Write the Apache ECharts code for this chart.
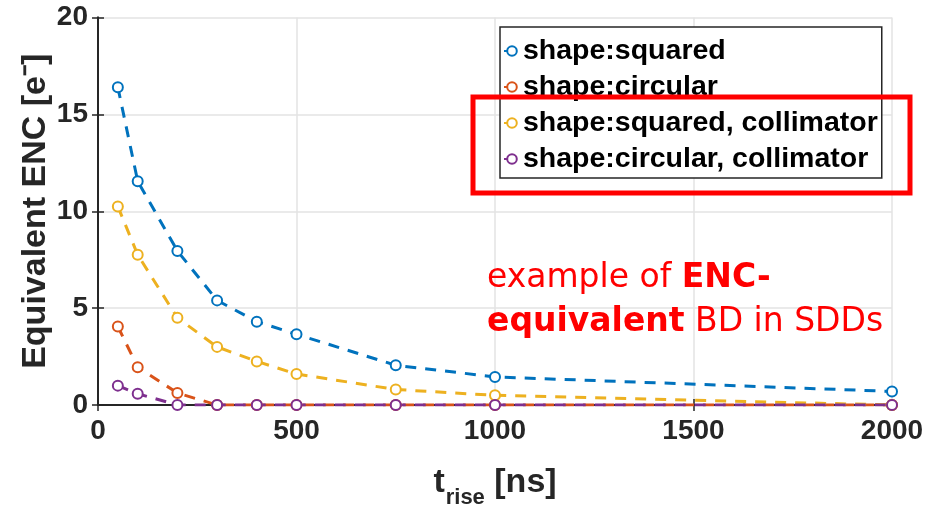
<!DOCTYPE html>
<html>
<head>
<meta charset="utf-8">
<script src="https://cdn.jsdelivr.net/npm/echarts@6/dist/echarts.min.js"></script>
<style>
    html, body { margin: 0; padding: 0; background: #fff; }
    #chart { width: 927px; height: 507px; }
</style>
</head>
<body>
<div id="chart"></div>
<script>
// rise time [ns]
const riseTimes = [50, 100, 200, 300, 400, 500, 750, 1000, 2000];

const squared = [16.4, 11.55, 7.95, 5.4, 4.3, 3.65, 2.05, 1.45, 0.7];
const circular = [4.05, 1.95, 0.62, 0, 0, 0, 0, 0, 0];
const squaredColl = [10.25, 7.75, 4.5, 3.0, 2.25, 1.6, 0.8, 0.5, 0];
const circularColl = [1.0, 0.58, 0, 0, 0, 0, 0, 0, 0];

const seriesNames = ['shape:squared', 'shape:circular', 'shape:squared, collimator', 'shape:circular, collimator'];
const seriesColors = ['#0072BD', '#D95319', '#EDB120', '#7E2F8E'];
const xTicks = [0, 500, 1000, 1500, 2000];
const yTicks = [0, 5, 10, 15, 20];

const chart = echarts.init(document.getElementById('chart'));

function pairs(ys) {
    return riseTimes.map((x, i) => [x, ys[i]]);
}

function makeSeries(name, ys, color) {
    return {
        name: name,
        type: 'line',
        data: pairs(ys),
        symbol: 'emptyCircle',
        symbolSize: 10,
        showAllSymbol: true,
        color: color,
        lineStyle: {
            color: color,
            width: 3,
            type: [11, 9]
        },
        itemStyle: {
            color: color,
            borderWidth: 2
        },
        emphasis: { disabled: true },
        animation: false
    };
}

const fontFam = '"Liberation Sans", Arial, sans-serif';
const axisCol = '#262626';

const option = {
    backgroundColor: '#fff',
    animation: false,
    grid: {
        left: 98,
        right: 35,
        top: 17.5,
        bottom: 102,
        outerBoundsMode: 'none'
    },
    legend: {
        orient: 'vertical',
        left: 500,
        top: 27,
        data: seriesNames,
        itemWidth: 16,
        itemHeight: 12,
        itemGap: 6,
        padding: [9, 4, 4, 3],
        borderColor: axisCol,
        borderWidth: 1.5,
        backgroundColor: '#fff',
        textStyle: {
            fontFamily: fontFam,
            fontWeight: 'bold',
            fontSize: 28.5,
            lineHeight: 30,
            color: '#000',
            padding: [0, 0, 0, -2]
        }
    },
    xAxis: [{
        type: 'value',
        min: xTicks[0],
        max: xTicks[xTicks.length - 1],
        interval: 500,
        name: '{t|t}{sub|rise}{b| [ns]}',
        nameLocation: 'middle',
        nameGap: 52,
        nameMoveOverlap: false,
        nameTextStyle: {
            rich: {
                t: { fontFamily: fontFam, fontWeight: 'bold', fontSize: 34, color: axisCol },
                sub: { fontFamily: fontFam, fontWeight: 'bold', fontSize: 22, color: axisCol, padding: [30, 0, 0, 1] },
                b: { fontFamily: fontFam, fontWeight: 'bold', fontSize: 34, color: axisCol }
            }
        },
        axisLine: { show: true, onZero: false, lineStyle: { color: axisCol, width: 2 } },
        axisTick: { show: true, inside: true, length: 6, lineStyle: { color: axisCol, width: 1.5 } },
        axisLabel: {
            margin: 12,
            fontFamily: fontFam,
            fontWeight: 'bold',
            fontSize: 28,
            color: axisCol,
            formatter: v => String(v)
        },
        splitLine: { show: true, lineStyle: { color: '#e3e3e3', width: 1.5 } }
    }, {
        type: 'value',
        position: 'top',
        min: xTicks[0],
        max: xTicks[xTicks.length - 1],
        interval: 500,
        axisLine: { show: true, lineStyle: { color: axisCol, width: 2 } },
        axisTick: { show: true, inside: true, length: 6, lineStyle: { color: axisCol, width: 1.5 } },
        axisLabel: { show: false },
        splitLine: { show: false }
    }],
    yAxis: [{
        type: 'value',
        min: yTicks[0],
        max: yTicks[yTicks.length - 1],
        interval: 5,
        name: 'Equivalent ENC [e⁻]',
        nameLocation: 'middle',
        nameGap: 45,
        nameMoveOverlap: false,
        nameTextStyle: {
            fontFamily: fontFam,
            fontWeight: 'bold',
            fontSize: 34,
            color: axisCol
        },
        axisLine: { show: true, onZero: false, lineStyle: { color: axisCol, width: 2 } },
        axisTick: { show: true, inside: true, length: 6, lineStyle: { color: axisCol, width: 1.5 } },
        axisLabel: {
            margin: 10,
            fontFamily: fontFam,
            fontWeight: 'bold',
            fontSize: 28,
            color: axisCol
        },
        splitLine: { show: true, lineStyle: { color: '#e3e3e3', width: 1.5 } }
    }, {
        type: 'value',
        position: 'right',
        min: yTicks[0],
        max: yTicks[yTicks.length - 1],
        interval: 5,
        axisLine: { show: true, lineStyle: { color: axisCol, width: 2 } },
        axisTick: { show: true, inside: true, length: 6, lineStyle: { color: axisCol, width: 1.5 } },
        axisLabel: { show: false },
        splitLine: { show: false }
    }],
    series: [
        makeSeries(seriesNames[0], squared, seriesColors[0]),
        makeSeries(seriesNames[1], circular, seriesColors[1]),
        makeSeries(seriesNames[2], squaredColl, seriesColors[2]),
        makeSeries(seriesNames[3], circularColl, seriesColors[3])
    ],
    graphic: [{
        // red highlight box round the collimator entries
        type: 'rect',
        z: 100,
        shape: { x: 473, y: 97, width: 437, height: 96 },
        style: { fill: 'none', stroke: '#ff0000', lineWidth: 5 }
    }, {
        type: 'text',
        z: 100,
        left: 487,
        top: 262,
        style: {
            text: '{n|example of }{b|ENC-}\n{b|equivalent}{n| BD in SDDs}',
            rich: {
                n: { fontFamily: '"Comic Sans MS", "DejaVu Sans", sans-serif', fontSize: 33, lineHeight: 44, fill: '#ff0000' },
                b: { fontFamily: '"Comic Sans MS", "DejaVu Sans", sans-serif', fontWeight: 'bold', fontSize: 33, lineHeight: 44, fill: '#ff0000' }
            }
        }
    }]
};

chart.setOption(option);
</script>
</body>
</html>
